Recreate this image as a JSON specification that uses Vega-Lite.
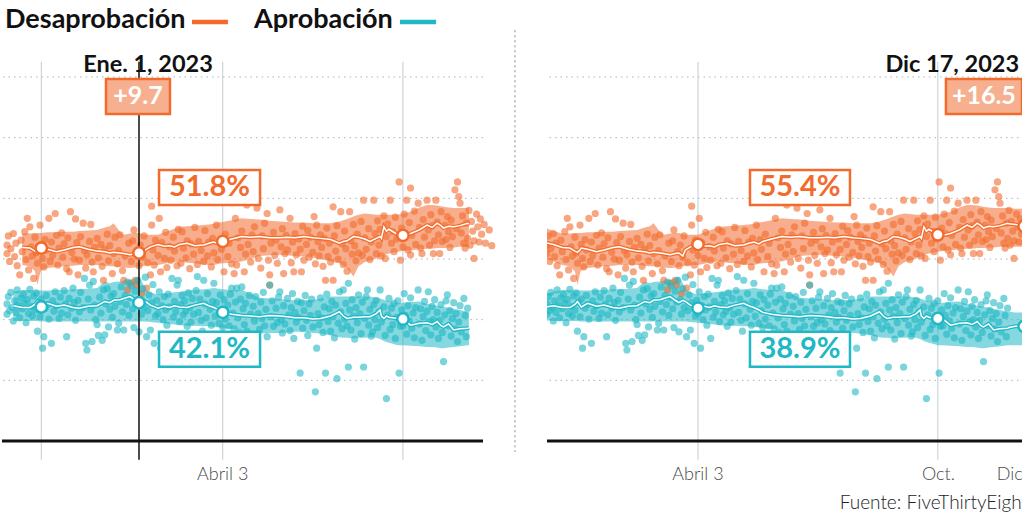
{
"$schema": "https://vega.github.io/schema/vega-lite/v6.json",
"background": "white",
"padding": 0,
"spacing": 64,
"bounds": "flush",
"config": {"view": {"stroke": null, "fill": "white"}, "font": "Lato", "axis": {"disable": true}},
"datasets": {
"tendencia": [
{"t":-28,"d":52.7,"dlo":50.1,"dhi":55.1,"a":42.1,"alo":39.9,"ahi":44.3},
{"t":-22,"d":52.4,"dlo":49.6,"dhi":54.6,"a":42.3,"alo":39.8,"ahi":44.6},
{"t":-15,"d":51.9,"dlo":49.0,"dhi":54.2,"a":42.0,"alo":39.8,"ahi":44.9},
{"t":-9,"d":51.8,"dlo":48.8,"dhi":54.2,"a":42.0,"alo":39.8,"ahi":44.9},
{"t":-5,"d":51.3,"dlo":48.0,"dhi":54.3,"a":42.5,"alo":39.8,"ahi":44.8},
{"t":-3,"d":51.1,"dlo":45.7,"dhi":54.3,"a":43.0,"alo":39.8,"ahi":44.8},
{"t":-1,"d":51.5,"dlo":47.6,"dhi":54.3,"a":42.4,"alo":39.7,"ahi":44.8},
{"t":0,"d":51.8,"dlo":48.2,"dhi":54.3,"a":42.1,"alo":39.7,"ahi":44.8},
{"t":5,"d":51.6,"dlo":48.5,"dhi":54.4,"a":42.7,"alo":39.7,"ahi":44.8},
{"t":12,"d":51.2,"dlo":48.7,"dhi":54.4,"a":42.2,"alo":39.7,"ahi":44.9},
{"t":18,"d":51.5,"dlo":48.8,"dhi":54.5,"a":42.4,"alo":39.7,"ahi":44.9},
{"t":25,"d":51.9,"dlo":48.9,"dhi":54.5,"a":42.0,"alo":39.7,"ahi":45.0},
{"t":30,"d":52.0,"dlo":49.0,"dhi":54.6,"a":41.9,"alo":39.7,"ahi":45.0},
{"t":37,"d":51.6,"dlo":49.0,"dhi":54.7,"a":42.2,"alo":39.7,"ahi":45.1},
{"t":44,"d":51.3,"dlo":49.0,"dhi":54.8,"a":42.3,"alo":39.7,"ahi":45.2},
{"t":50,"d":51.2,"dlo":48.9,"dhi":55.2,"a":43.0,"alo":39.7,"ahi":46.3},
{"t":54,"d":51.0,"dlo":48.8,"dhi":55.4,"a":42.8,"alo":39.7,"ahi":46.0},
{"t":57,"d":51.1,"dlo":48.8,"dhi":55.9,"a":43.2,"alo":39.7,"ahi":46.2},
{"t":62,"d":51.0,"dlo":48.7,"dhi":54.5,"a":43.3,"alo":39.7,"ahi":46.3},
{"t":65,"d":50.9,"dlo":48.6,"dhi":54.0,"a":43.5,"alo":39.7,"ahi":46.4},
{"t":70,"d":50.7,"dlo":48.5,"dhi":54.2,"a":43.8,"alo":39.7,"ahi":46.6},
{"t":74,"d":50.9,"dlo":48.6,"dhi":54.3,"a":43.2,"alo":39.7,"ahi":46.8},
{"t":77,"d":51.0,"dlo":48.7,"dhi":54.3,"a":42.8,"alo":39.7,"ahi":47.1},
{"t":80,"d":50.5,"dlo":48.8,"dhi":54.1,"a":43.2,"alo":39.7,"ahi":46.0},
{"t":82,"d":51.5,"dlo":48.9,"dhi":54.0,"a":43.0,"alo":39.7,"ahi":45.0},
{"t":86,"d":52.0,"dlo":49.0,"dhi":54.0,"a":42.4,"alo":39.6,"ahi":44.5},
{"t":92,"d":52.4,"dlo":49.0,"dhi":54.0,"a":41.9,"alo":39.5,"ahi":44.1},
{"t":97,"d":52.1,"dlo":49.2,"dhi":54.4,"a":42.2,"alo":39.4,"ahi":44.3},
{"t":101,"d":52.2,"dlo":49.4,"dhi":54.7,"a":42.0,"alo":39.3,"ahi":44.4},
{"t":105,"d":52.0,"dlo":49.5,"dhi":55.0,"a":42.3,"alo":39.2,"ahi":44.5},
{"t":109,"d":52.4,"dlo":49.6,"dhi":55.3,"a":42.1,"alo":39.1,"ahi":44.6},
{"t":115,"d":52.6,"dlo":49.4,"dhi":55.4,"a":42.0,"alo":39.0,"ahi":44.8},
{"t":121,"d":52.2,"dlo":49.3,"dhi":55.5,"a":42.4,"alo":39.0,"ahi":44.9},
{"t":128,"d":52.3,"dlo":49.1,"dhi":55.6,"a":42.7,"alo":38.9,"ahi":45.0},
{"t":132,"d":52.6,"dlo":49.0,"dhi":55.7,"a":42.3,"alo":38.9,"ahi":45.1},
{"t":136,"d":52.8,"dlo":49.0,"dhi":55.8,"a":42.0,"alo":38.8,"ahi":45.2},
{"t":140,"d":52.5,"dlo":49.2,"dhi":56.0,"a":41.6,"alo":38.7,"ahi":45.1},
{"t":143,"d":52.9,"dlo":49.3,"dhi":56.1,"a":41.2,"alo":38.6,"ahi":45.0},
{"t":150,"d":53.3,"dlo":49.4,"dhi":56.4,"a":40.9,"alo":38.5,"ahi":44.9},
{"t":158,"d":53.7,"dlo":49.6,"dhi":56.7,"a":40.7,"alo":38.3,"ahi":44.9},
{"t":165,"d":53.6,"dlo":50.0,"dhi":56.6,"a":40.6,"alo":38.0,"ahi":44.3},
{"t":172,"d":53.7,"dlo":50.5,"dhi":56.5,"a":40.5,"alo":37.7,"ahi":43.6},
{"t":180,"d":53.5,"dlo":50.6,"dhi":56.3,"a":40.7,"alo":37.8,"ahi":43.5},
{"t":188,"d":53.5,"dlo":50.7,"dhi":56.2,"a":40.6,"alo":37.8,"ahi":43.4},
{"t":194,"d":53.6,"dlo":50.6,"dhi":56.1,"a":40.5,"alo":37.9,"ahi":43.3},
{"t":200,"d":53.5,"dlo":50.5,"dhi":56.0,"a":40.3,"alo":38.0,"ahi":43.2},
{"t":207,"d":53.7,"dlo":50.4,"dhi":56.0,"a":40.3,"alo":38.0,"ahi":43.2},
{"t":214,"d":53.5,"dlo":50.2,"dhi":55.9,"a":40.1,"alo":37.8,"ahi":43.3},
{"t":220,"d":53.4,"dlo":50.0,"dhi":55.9,"a":40.2,"alo":37.7,"ahi":43.5},
{"t":228,"d":53.2,"dlo":49.6,"dhi":55.9,"a":40.6,"alo":37.4,"ahi":43.8},
{"t":235,"d":52.6,"dlo":49.3,"dhi":56.2,"a":41.3,"alo":37.1,"ahi":43.8},
{"t":238,"d":52.9,"dlo":48.9,"dhi":56.4,"a":40.6,"alo":37.0,"ahi":43.8},
{"t":241,"d":53.0,"dlo":48.5,"dhi":56.6,"a":40.2,"alo":37.0,"ahi":43.8},
{"t":246,"d":53.7,"dlo":47.1,"dhi":57.0,"a":40.4,"alo":36.9,"ahi":43.8},
{"t":250,"d":53.6,"dlo":48.8,"dhi":57.3,"a":40.4,"alo":37.0,"ahi":43.8},
{"t":255,"d":53.3,"dlo":49.5,"dhi":57.5,"a":40.5,"alo":37.0,"ahi":43.8},
{"t":259,"d":52.9,"dlo":49.7,"dhi":57.4,"a":40.5,"alo":37.1,"ahi":43.8},
{"t":264,"d":53.4,"dlo":50.1,"dhi":57.3,"a":41.0,"alo":37.0,"ahi":43.6},
{"t":267,"d":53.7,"dlo":50.3,"dhi":57.3,"a":41.6,"alo":36.8,"ahi":43.5},
{"t":268,"d":53.4,"dlo":50.4,"dhi":57.3,"a":40.6,"alo":36.7,"ahi":43.4},
{"t":270,"d":55.3,"dlo":50.6,"dhi":57.3,"a":40.2,"alo":36.5,"ahi":43.3},
{"t":272,"d":54.6,"dlo":50.8,"dhi":57.3,"a":40.6,"alo":36.3,"ahi":43.1},
{"t":274,"d":54.9,"dlo":50.9,"dhi":57.3,"a":40.4,"alo":36.2,"ahi":43.0},
{"t":281,"d":54.0,"dlo":51.2,"dhi":57.3,"a":40.2,"alo":35.8,"ahi":42.7},
{"t":285,"d":53.9,"dlo":51.3,"dhi":57.5,"a":40.1,"alo":35.8,"ahi":42.8},
{"t":291,"d":54.2,"dlo":51.4,"dhi":57.8,"a":39.1,"alo":35.7,"ahi":42.9},
{"t":298,"d":54.8,"dlo":51.6,"dhi":58.5,"a":39.4,"alo":35.6,"ahi":43.0},
{"t":304,"d":55.6,"dlo":51.7,"dhi":58.9,"a":39.5,"alo":35.5,"ahi":42.6},
{"t":308,"d":55.2,"dlo":51.7,"dhi":58.9,"a":39.2,"alo":35.5,"ahi":42.5},
{"t":312,"d":55.9,"dlo":51.8,"dhi":58.8,"a":39.7,"alo":35.4,"ahi":42.3},
{"t":315,"d":55.5,"dlo":51.8,"dhi":58.7,"a":39.0,"alo":35.3,"ahi":42.2},
{"t":317,"d":55.1,"dlo":51.8,"dhi":58.6,"a":38.8,"alo":35.3,"ahi":42.1},
{"t":321,"d":55.4,"dlo":51.9,"dhi":58.5,"a":39.3,"alo":35.4,"ahi":42.0},
{"t":325,"d":55.3,"dlo":51.9,"dhi":58.4,"a":38.3,"alo":35.5,"ahi":41.8},
{"t":330,"d":55.5,"dlo":52.0,"dhi":58.4,"a":38.5,"alo":35.6,"ahi":41.6},
{"t":336,"d":55.9,"dlo":52.0,"dhi":58.4,"a":38.6,"alo":35.8,"ahi":41.3},
{"t":337,"d":55.8,"dlo":52.0,"dhi":58.4,"a":38.7,"alo":35.8,"ahi":41.3},
{"t":342,"d":55.7,"dlo":52.0,"dhi":58.3,"a":38.9,"alo":35.8,"ahi":41.2},
{"t":349,"d":55.4,"dlo":52.0,"dhi":58.3,"a":38.9,"alo":35.8,"ahi":41.2},
{"t":356,"d":55.5,"dlo":52.0,"dhi":58.3,"a":38.9,"alo":35.8,"ahi":41.2}
],
"desaprobacion": [
{"t":-27,"v":52.3},{"t":-27,"v":50.9},{"t":-26,"v":53.8},{"t":-25,"v":49.6},{"t":-24,"v":51.7},{"t":-22,"v":54.2},{"t":-21,"v":50.4},{"t":-20,"v":52.6},{"t":-19,"v":48.9},{"t":-17,"v":47.4},{"t":-16,"v":53.1},{"t":-15,"v":51.2},{"t":-13,"v":54.5},{"t":-12,"v":49.9},{"t":-11,"v":56.7},{"t":-10,"v":48.2},{"t":-9,"v":55.3},{"t":-8,"v":52.0},{"t":-7,"v":50.5},{"t":-6,"v":46.8},{"t":-5,"v":53.6},{"t":-4,"v":51.0},{"t":-3,"v":49.3},{"t":-1,"v":55.6},{"t":0,"v":52.4},{"t":1,"v":50.1},{"t":2,"v":48.7},{"t":3,"v":53.2},{"t":4,"v":51.5},{"t":6,"v":56.7},{"t":7,"v":49.6},{"t":8,"v":52.8},{"t":9,"v":50.6},{"t":11,"v":57.5},{"t":12,"v":53.9},{"t":13,"v":49.0},{"t":14,"v":51.8},{"t":16,"v":54.3},{"t":17,"v":50.3},{"t":18,"v":52.5},{"t":20,"v":48.4},{"t":21,"v":53.5},{"t":22,"v":47.9},{"t":23,"v":57.8},{"t":24,"v":51.1},{"t":26,"v":50.0},{"t":27,"v":56.6},{"t":28,"v":52.7},{"t":29,"v":47.4},{"t":30,"v":49.8},{"t":31,"v":53.7},{"t":33,"v":55.9},{"t":34,"v":51.4},{"t":35,"v":48.5},{"t":36,"v":50.7},{"t":38,"v":52.9},{"t":39,"v":55.7},{"t":40,"v":49.5},{"t":41,"v":47.9},{"t":42,"v":51.9},{"t":44,"v":53.4},{"t":45,"v":50.2},{"t":47,"v":52.4},{"t":48,"v":48.8},{"t":49,"v":46.5},{"t":50,"v":51.6},{"t":52,"v":54.1},{"t":53,"v":49.7},{"t":54,"v":52.2},{"t":56,"v":47.6},{"t":57,"v":50.9},{"t":58,"v":53.6},{"t":60,"v":49.2},{"t":61,"v":51.4},{"t":62,"v":54.0},{"t":64,"v":48.1},{"t":65,"v":46.5},{"t":66,"v":50.5},{"t":68,"v":44.9},{"t":69,"v":52.6},{"t":70,"v":46.0},{"t":71,"v":49.6},{"t":72,"v":53.0},{"t":73,"v":54.8},{"t":74,"v":46.5},{"t":75,"v":45.7},{"t":76,"v":51.2},{"t":77,"v":48.9},{"t":78,"v":52.3},{"t":79,"v":44.3},{"t":80,"v":50.3},{"t":81,"v":53.8},{"t":83,"v":45.2},{"t":84,"v":49.4},{"t":86,"v":47.4},{"t":87,"v":58.7},{"t":87,"v":55.6},{"t":88,"v":51.5},{"t":89,"v":49.0},{"t":90,"v":53.1},{"t":92,"v":50.6},{"t":93,"v":56.7},{"t":94,"v":47.9},{"t":95,"v":52.7},{"t":97,"v":50.1},{"t":98,"v":54.4},{"t":99,"v":48.6},{"t":101,"v":52.0},{"t":102,"v":49.8},{"t":104,"v":53.6},{"t":105,"v":51.3},{"t":107,"v":48.9},{"t":108,"v":54.9},{"t":110,"v":49.3},{"t":111,"v":54.5},{"t":112,"v":51.8},{"t":114,"v":50.2},{"t":115,"v":53.0},{"t":117,"v":48.4},{"t":118,"v":52.5},{"t":120,"v":50.8},{"t":121,"v":55.2},{"t":123,"v":49.1},{"t":124,"v":52.9},{"t":126,"v":51.4},{"t":128,"v":49.6},{"t":129,"v":54.7},{"t":131,"v":50.5},{"t":132,"v":52.8},{"t":134,"v":48.7},{"t":135,"v":53.4},{"t":136,"v":51.0},{"t":138,"v":55.6},{"t":139,"v":49.9},{"t":141,"v":53.2},{"t":142,"v":51.6},{"t":144,"v":47.9},{"t":145,"v":54.1},{"t":147,"v":50.4},{"t":148,"v":52.6},{"t":150,"v":49.2},{"t":152,"v":47.6},{"t":153,"v":56.7},{"t":154,"v":49.0},{"t":155,"v":53.5},{"t":157,"v":51.9},{"t":158,"v":54.6},{"t":160,"v":47.9},{"t":161,"v":50.8},{"t":162,"v":58.9},{"t":163,"v":52.4},{"t":165,"v":49.5},{"t":166,"v":54.0},{"t":167,"v":51.2},{"t":168,"v":55.3},{"t":170,"v":58.4},{"t":171,"v":50.1},{"t":173,"v":48.5},{"t":174,"v":53.8},{"t":175,"v":51.7},{"t":176,"v":55.9},{"t":178,"v":57.5},{"t":179,"v":49.8},{"t":180,"v":47.4},{"t":180,"v":45.7},{"t":181,"v":52.6},{"t":183,"v":54.4},{"t":184,"v":50.6},{"t":185,"v":53.1},{"t":186,"v":49.3},{"t":188,"v":58.1},{"t":189,"v":52.0},{"t":190,"v":55.0},{"t":191,"v":47.6},{"t":192,"v":50.9},{"t":193,"v":53.9},{"t":194,"v":51.5},{"t":196,"v":56.7},{"t":197,"v":49.4},{"t":198,"v":52.8},{"t":199,"v":47.9},{"t":200,"v":54.2},{"t":201,"v":50.7},{"t":203,"v":53.3},{"t":204,"v":51.6},{"t":205,"v":47.9},{"t":206,"v":55.4},{"t":207,"v":49.8},{"t":209,"v":52.4},{"t":210,"v":54.7},{"t":211,"v":50.3},{"t":212,"v":53.6},{"t":214,"v":51.1},{"t":215,"v":57.0},{"t":216,"v":49.2},{"t":217,"v":55.6},{"t":218,"v":52.9},{"t":219,"v":50.5},{"t":220,"v":54.0},{"t":221,"v":51.9},{"t":222,"v":48.8},{"t":223,"v":53.4},{"t":224,"v":46.5},{"t":225,"v":55.1},{"t":226,"v":50.4},{"t":227,"v":52.6},{"t":228,"v":49.5},{"t":230,"v":58.6},{"t":230,"v":46.5},{"t":231,"v":53.8},{"t":232,"v":51.3},{"t":233,"v":55.5},{"t":234,"v":50.0},{"t":236,"v":57.8},{"t":237,"v":52.5},{"t":238,"v":49.1},{"t":239,"v":54.6},{"t":240,"v":51.7},{"t":241,"v":48.0},{"t":243,"v":57.8},{"t":244,"v":53.0},{"t":245,"v":50.8},{"t":246,"v":55.7},{"t":247,"v":52.2},{"t":248,"v":49.7},{"t":249,"v":54.1},{"t":250,"v":51.0},{"t":252,"v":56.2},{"t":253,"v":50.6},{"t":254,"v":59.7},{"t":255,"v":53.5},{"t":256,"v":51.6},{"t":258,"v":55.0},{"t":259,"v":49.9},{"t":260,"v":52.8},{"t":262,"v":59.7},{"t":263,"v":54.2},{"t":264,"v":50.9},{"t":265,"v":56.3},{"t":266,"v":52.3},{"t":267,"v":54.9},{"t":268,"v":50.5},{"t":270,"v":57.1},{"t":271,"v":50.1},{"t":272,"v":53.7},{"t":273,"v":55.8},{"t":275,"v":59.7},{"t":276,"v":52.6},{"t":277,"v":54.5},{"t":278,"v":51.2},{"t":279,"v":56.9},{"t":280,"v":53.3},{"t":282,"v":62.7},{"t":283,"v":49.8},{"t":284,"v":55.1},{"t":285,"v":52.0},{"t":286,"v":57.4},{"t":287,"v":54.2},{"t":288,"v":59.7},{"t":289,"v":51.5},{"t":290,"v":56.0},{"t":291,"v":61.7},{"t":291,"v":50.7},{"t":292,"v":53.9},{"t":294,"v":57.9},{"t":295,"v":52.4},{"t":297,"v":59.2},{"t":298,"v":55.2},{"t":299,"v":51.8},{"t":300,"v":50.9},{"t":301,"v":56.5},{"t":302,"v":53.6},{"t":304,"v":59.7},{"t":305,"v":54.8},{"t":306,"v":52.3},{"t":307,"v":57.3},{"t":308,"v":55.5},{"t":309,"v":50.9},{"t":310,"v":53.0},{"t":311,"v":59.7},{"t":312,"v":56.1},{"t":313,"v":54.0},{"t":314,"v":50.9},{"t":315,"v":57.8},{"t":316,"v":52.9},{"t":318,"v":55.6},{"t":319,"v":53.2},{"t":320,"v":57.0},{"t":321,"v":54.5},{"t":322,"v":51.9},{"t":323,"v":56.4},{"t":324,"v":53.7},{"t":326,"v":61.4},{"t":327,"v":55.0},{"t":328,"v":62.7},{"t":329,"v":60.3},{"t":330,"v":59.2},{"t":331,"v":54.3},{"t":332,"v":57.1},{"t":333,"v":52.6},{"t":334,"v":51.8},{"t":335,"v":55.9},{"t":336,"v":53.4},{"t":337,"v":58.0},{"t":338,"v":52.3},{"t":339,"v":56.2},{"t":340,"v":54.6},{"t":341,"v":53.0},{"t":341,"v":50.1},{"t":343,"v":57.4},{"t":344,"v":55.3},{"t":345,"v":52.8},{"t":346,"v":56.6},{"t":347,"v":54.1},{"t":349,"v":55.7},{"t":350,"v":52.6},{"t":353,"v":54.8},{"t":355,"v":52.2}
],
"aprobacion": [
{"t":-27,"v":42.6},{"t":-27,"v":40.9},{"t":-26,"v":43.8},{"t":-25,"v":41.5},{"t":-24,"v":44.5},{"t":-23,"v":42.0},{"t":-22,"v":39.8},{"t":-21,"v":43.1},{"t":-20,"v":41.2},{"t":-19,"v":44.9},{"t":-18,"v":42.4},{"t":-17,"v":40.3},{"t":-16,"v":43.6},{"t":-15,"v":41.8},{"t":-14,"v":44.2},{"t":-13,"v":42.7},{"t":-12,"v":39.5},{"t":-11,"v":43.3},{"t":-10,"v":41.0},{"t":-9,"v":45.0},{"t":-8,"v":42.2},{"t":-7,"v":40.6},{"t":-6,"v":43.9},{"t":-5,"v":41.6},{"t":-4,"v":44.4},{"t":-3,"v":38.1},{"t":-2,"v":42.9},{"t":-1,"v":40.5},{"t":0,"v":43.4},{"t":1,"v":35.3},{"t":2,"v":37.2},{"t":3,"v":41.9},{"t":4,"v":44.0},{"t":5,"v":42.5},{"t":6,"v":40.1},{"t":8,"v":36.1},{"t":9,"v":43.1},{"t":10,"v":41.4},{"t":11,"v":44.6},{"t":12,"v":42.3},{"t":14,"v":40.2},{"t":15,"v":43.7},{"t":16,"v":41.1},{"t":18,"v":44.8},{"t":19,"v":42.6},{"t":20,"v":37.2},{"t":21,"v":40.8},{"t":22,"v":43.5},{"t":24,"v":41.9},{"t":25,"v":45.2},{"t":26,"v":42.8},{"t":27,"v":39.9},{"t":29,"v":43.2},{"t":30,"v":41.3},{"t":31,"v":44.5},{"t":33,"v":42.0},{"t":34,"v":46.8},{"t":35,"v":36.1},{"t":36,"v":35.0},{"t":37,"v":43.4},{"t":38,"v":45.7},{"t":39,"v":41.6},{"t":40,"v":36.4},{"t":41,"v":46.3},{"t":42,"v":42.4},{"t":43,"v":40.0},{"t":44,"v":39.2},{"t":45,"v":37.4},{"t":46,"v":43.7},{"t":47,"v":41.1},{"t":48,"v":36.6},{"t":49,"v":44.9},{"t":50,"v":37.5},{"t":51,"v":42.6},{"t":52,"v":45.1},{"t":53,"v":38.8},{"t":54,"v":41.7},{"t":55,"v":43.9},{"t":56,"v":40.4},{"t":57,"v":44.3},{"t":58,"v":42.2},{"t":60,"v":38.3},{"t":61,"v":39.4},{"t":62,"v":43.0},{"t":63,"v":45.4},{"t":64,"v":41.3},{"t":65,"v":38.3},{"t":66,"v":44.0},{"t":67,"v":42.5},{"t":68,"v":46.2},{"t":69,"v":40.7},{"t":70,"v":43.6},{"t":71,"v":45.6},{"t":72,"v":41.8},{"t":73,"v":38.7},{"t":74,"v":44.7},{"t":75,"v":42.9},{"t":76,"v":46.5},{"t":77,"v":38.0},{"t":78,"v":43.3},{"t":79,"v":40.9},{"t":80,"v":45.1},{"t":81,"v":42.0},{"t":82,"v":47.0},{"t":83,"v":37.2},{"t":84,"v":41.5},{"t":85,"v":44.1},{"t":86,"v":38.3},{"t":87,"v":42.8},{"t":88,"v":45.8},{"t":89,"v":36.1},{"t":90,"v":40.6},{"t":91,"v":43.2},{"t":92,"v":41.0},{"t":93,"v":44.6},{"t":94,"v":35.3},{"t":95,"v":42.3},{"t":96,"v":40.0},{"t":97,"v":43.8},{"t":98,"v":41.6},{"t":99,"v":39.1},{"t":100,"v":44.2},{"t":101,"v":42.1},{"t":102,"v":36.9},{"t":103,"v":46.8},{"t":104,"v":40.4},{"t":105,"v":43.0},{"t":106,"v":41.3},{"t":107,"v":45.7},{"t":108,"v":46.5},{"t":109,"v":39.7},{"t":110,"v":42.5},{"t":111,"v":44.0},{"t":112,"v":40.8},{"t":113,"v":43.1},{"t":114,"v":41.4},{"t":115,"v":38.9},{"t":116,"v":44.4},{"t":117,"v":42.0},{"t":118,"v":39.6},{"t":119,"v":43.5},{"t":120,"v":40.9},{"t":122,"v":44.8},{"t":123,"v":47.1},{"t":124,"v":41.2},{"t":125,"v":43.4},{"t":126,"v":39.9},{"t":127,"v":38.1},{"t":128,"v":46.5},{"t":129,"v":42.6},{"t":130,"v":40.3},{"t":131,"v":44.3},{"t":133,"v":41.7},{"t":134,"v":39.1},{"t":135,"v":43.0},{"t":136,"v":46.0},{"t":137,"v":40.6},{"t":138,"v":42.8},{"t":140,"v":39.4},{"t":141,"v":44.1},{"t":142,"v":41.5},{"t":143,"v":38.7},{"t":144,"v":43.3},{"t":145,"v":40.1},{"t":147,"v":42.4},{"t":148,"v":39.0},{"t":149,"v":44.2},{"t":150,"v":45.2},{"t":151,"v":41.1},{"t":152,"v":38.5},{"t":153,"v":42.9},{"t":154,"v":45.2},{"t":155,"v":40.3},{"t":156,"v":37.9},{"t":157,"v":43.4},{"t":158,"v":45.4},{"t":159,"v":41.8},{"t":160,"v":39.2},{"t":161,"v":42.7},{"t":162,"v":38.1},{"t":164,"v":44.0},{"t":165,"v":40.9},{"t":166,"v":37.6},{"t":167,"v":42.2},{"t":168,"v":39.8},{"t":169,"v":43.8},{"t":171,"v":41.0},{"t":172,"v":38.4},{"t":173,"v":42.9},{"t":174,"v":40.2},{"t":175,"v":44.5},{"t":176,"v":39.0},{"t":177,"v":41.7},{"t":178,"v":37.2},{"t":180,"v":45.7},{"t":181,"v":40.5},{"t":182,"v":43.1},{"t":183,"v":38.9},{"t":185,"v":41.9},{"t":186,"v":39.5},{"t":187,"v":43.7},{"t":188,"v":44.6},{"t":189,"v":40.0},{"t":190,"v":37.8},{"t":191,"v":42.3},{"t":192,"v":39.3},{"t":194,"v":43.5},{"t":195,"v":40.8},{"t":196,"v":38.2},{"t":197,"v":42.0},{"t":198,"v":44.3},{"t":199,"v":36.9},{"t":200,"v":41.2},{"t":201,"v":39.6},{"t":202,"v":43.0},{"t":203,"v":40.4},{"t":204,"v":31.2},{"t":205,"v":42.8},{"t":206,"v":38.6},{"t":207,"v":41.5},{"t":208,"v":44.0},{"t":209,"v":39.9},{"t":210,"v":37.4},{"t":211,"v":42.6},{"t":212,"v":40.7},{"t":213,"v":43.4},{"t":214,"v":38.8},{"t":216,"v":28.1},{"t":217,"v":35.3},{"t":218,"v":41.0},{"t":219,"v":39.2},{"t":220,"v":43.6},{"t":221,"v":40.3},{"t":222,"v":37.9},{"t":223,"v":42.1},{"t":224,"v":31.2},{"t":225,"v":44.2},{"t":226,"v":39.7},{"t":227,"v":41.8},{"t":228,"v":38.1},{"t":229,"v":43.0},{"t":230,"v":40.5},{"t":231,"v":37.0},{"t":232,"v":42.4},{"t":233,"v":30.3},{"t":234,"v":39.4},{"t":235,"v":44.6},{"t":236,"v":41.3},{"t":237,"v":38.5},{"t":238,"v":44.9},{"t":239,"v":40.1},{"t":240,"v":42.7},{"t":241,"v":39.0},{"t":242,"v":46.0},{"t":242,"v":32.2},{"t":243,"v":41.6},{"t":244,"v":38.3},{"t":245,"v":43.3},{"t":246,"v":40.6},{"t":247,"v":36.8},{"t":248,"v":42.0},{"t":249,"v":39.5},{"t":250,"v":44.1},{"t":251,"v":41.0},{"t":252,"v":37.7},{"t":253,"v":42.9},{"t":254,"v":32.2},{"t":255,"v":40.2},{"t":256,"v":43.8},{"t":257,"v":44.9},{"t":258,"v":39.1},{"t":259,"v":41.7},{"t":260,"v":37.3},{"t":261,"v":38.0},{"t":262,"v":42.5},{"t":263,"v":40.0},{"t":264,"v":43.2},{"t":265,"v":38.7},{"t":266,"v":41.3},{"t":267,"v":44.9},{"t":268,"v":39.6},{"t":270,"v":42.1},{"t":271,"v":37.4},{"t":272,"v":27.0},{"t":273,"v":40.8},{"t":274,"v":43.5},{"t":275,"v":38.4},{"t":276,"v":41.9},{"t":277,"v":39.2},{"t":278,"v":42.7},{"t":279,"v":36.9},{"t":280,"v":40.4},{"t":281,"v":43.1},{"t":282,"v":31.2},{"t":283,"v":38.9},{"t":284,"v":41.6},{"t":285,"v":39.0},{"t":286,"v":44.3},{"t":287,"v":40.7},{"t":288,"v":37.6},{"t":289,"v":42.3},{"t":290,"v":39.8},{"t":291,"v":43.6},{"t":292,"v":38.6},{"t":293,"v":41.1},{"t":294,"v":37.0},{"t":295,"v":42.0},{"t":297,"v":44.9},{"t":298,"v":39.3},{"t":299,"v":41.8},{"t":300,"v":36.6},{"t":301,"v":40.5},{"t":302,"v":43.0},{"t":303,"v":38.2},{"t":304,"v":41.4},{"t":305,"v":44.6},{"t":306,"v":39.7},{"t":307,"v":37.5},{"t":308,"v":42.2},{"t":309,"v":40.0},{"t":310,"v":43.3},{"t":311,"v":38.8},{"t":312,"v":41.2},{"t":313,"v":36.9},{"t":314,"v":39.9},{"t":315,"v":42.5},{"t":316,"v":37.9},{"t":317,"v":33.1},{"t":318,"v":40.8},{"t":319,"v":43.1},{"t":320,"v":44.1},{"t":321,"v":39.0},{"t":322,"v":41.5},{"t":323,"v":37.3},{"t":324,"v":40.2},{"t":325,"v":42.8},{"t":326,"v":38.5},{"t":327,"v":41.0},{"t":328,"v":36.4},{"t":329,"v":39.6},{"t":330,"v":42.3},{"t":331,"v":38.0},{"t":333,"v":43.5},{"t":334,"v":40.7},{"t":335,"v":37.2},{"t":336,"v":41.9}
]
},
"hconcat": [
{
"width": 481,
"height": 518,
"data": {"values": [{}]},
"layer": [
{"mark": {"type": "rule", "color": "#aab5bc", "strokeWidth": 1, "strokeDash": [1.5, 4]}, "encoding": {"y": {"datum": 30}}},
{"mark": {"type": "rule", "color": "#aab5bc", "strokeWidth": 1, "strokeDash": [1.5, 4]}, "encoding": {"y": {"datum": 40}}},
{"mark": {"type": "rule", "color": "#aab5bc", "strokeWidth": 1, "strokeDash": [1.5, 4]}, "encoding": {"y": {"datum": 50}}},
{"mark": {"type": "rule", "color": "#aab5bc", "strokeWidth": 1, "strokeDash": [1.5, 4]}, "encoding": {"y": {"datum": 60}}},
{"mark": {"type": "rule", "color": "#aab5bc", "strokeWidth": 1, "strokeDash": [1.5, 4]}, "encoding": {"y": {"datum": 70}}},
{"mark": {"type": "rule", "color": "#aab5bc", "strokeWidth": 1, "strokeDash": [1.5, 4]}, "encoding": {"y": {"datum": 80}}},
{"mark": {"type": "rule", "color": "#c3ccd2", "strokeWidth": 1}, "encoding": {"x": {"datum": 0}, "y": {"datum": 82.5}, "y2": {"datum": 16.9}}},
{"mark": {"type": "rule", "color": "#c3ccd2", "strokeWidth": 1}, "encoding": {"x": {"datum": 143}, "y": {"datum": 82.5}, "y2": {"datum": 16.9}}},
{"mark": {"type": "rule", "color": "#c3ccd2", "strokeWidth": 1}, "encoding": {"x": {"datum": 285}, "y": {"datum": 82.5}, "y2": {"datum": 16.9}}},
{"data": {"name": "tendencia"}, "transform": [{"filter": "datum.t >= -15 && datum.t <= 337"}],
 "mark": {"type": "area", "color": "#F26B2D", "opacity": 0.55},
 "encoding": {
  "x": {"field": "t", "type": "quantitative", "scale": {"domain": [-30.96, 348.1], "nice": false, "zero": false}},
  "y": {"field": "dlo", "type": "quantitative", "scale": {"domain": [7.31, 92.69], "nice": false, "zero": false}},
  "y2": {"field": "dhi"}}},
{"data": {"name": "tendencia"}, "transform": [{"filter": "datum.t >= -22 && datum.t <= 337"}],
 "mark": {"type": "area", "color": "#20B8C4", "opacity": 0.55},
 "encoding": {"x": {"field": "t", "type": "quantitative"}, "y": {"field": "alo", "type": "quantitative"}, "y2": {"field": "ahi"}}},
{"data": {"name": "desaprobacion"}, "mark": {"type": "circle", "size": 52, "color": "#F26B2D", "opacity": 0.6},
 "encoding": {"x": {"field": "t", "type": "quantitative"}, "y": {"field": "v", "type": "quantitative"}}},
{"data": {"name": "aprobacion"}, "mark": {"type": "circle", "size": 52, "color": "#20B8C4", "opacity": 0.6},
 "encoding": {"x": {"field": "t", "type": "quantitative"}, "y": {"field": "v", "type": "quantitative"}}},
{"mark": {"type": "rule", "color": "#111111", "strokeWidth": 1.5}, "encoding": {"x": {"datum": 77}, "y": {"datum": 82.5}, "y2": {"datum": 16.9}}},
{"data": {"name": "tendencia"}, "transform": [{"filter": "datum.t >= -15 && datum.t <= 337"}],
 "mark": {"type": "line", "color": "#F26B2D", "strokeWidth": 4}, "encoding": {"x": {"field": "t", "type": "quantitative"}, "y": {"field": "d", "type": "quantitative"}}},
{"data": {"name": "tendencia"}, "transform": [{"filter": "datum.t >= -15 && datum.t <= 337"}],
 "mark": {"type": "line", "color": "white", "strokeWidth": 1.5}, "encoding": {"x": {"field": "t", "type": "quantitative"}, "y": {"field": "d", "type": "quantitative"}}},
{"data": {"name": "tendencia"}, "transform": [{"filter": "datum.t >= -22 && datum.t <= 337"}],
 "mark": {"type": "line", "color": "#20B8C4", "strokeWidth": 4}, "encoding": {"x": {"field": "t", "type": "quantitative"}, "y": {"field": "a", "type": "quantitative"}}},
{"data": {"name": "tendencia"}, "transform": [{"filter": "datum.t >= -22 && datum.t <= 337"}],
 "mark": {"type": "line", "color": "white", "strokeWidth": 1.5}, "encoding": {"x": {"field": "t", "type": "quantitative"}, "y": {"field": "a", "type": "quantitative"}}},
{"data": {"name": "tendencia"}, "transform": [{"filter": "indexof([0,77,143,285], datum.t) >= 0"}],
 "mark": {"type": "point", "shape": "circle", "filled": true, "fill": "white", "stroke": "#F26B2D", "strokeWidth": 2.5, "size": 130, "opacity": 1},
 "encoding": {"x": {"field": "t", "type": "quantitative"}, "y": {"field": "d", "type": "quantitative"}}},
{"data": {"name": "tendencia"}, "transform": [{"filter": "indexof([0,77,143,285], datum.t) >= 0"}],
 "mark": {"type": "point", "shape": "circle", "filled": true, "fill": "white", "stroke": "#20B8C4", "strokeWidth": 2.5, "size": 130, "opacity": 1},
 "encoding": {"x": {"field": "t", "type": "quantitative"}, "y": {"field": "a", "type": "quantitative"}}},
{"mark": {"type": "rule", "color": "#111111", "strokeWidth": 3}, "encoding": {"y": {"datum": 20}}},
{"mark": {"type": "text", "text": "Desaprobación", "align": "left", "baseline": "middle", "fontSize": 27, "fontWeight": "bold", "color": "#111111"}, "encoding": {"x": {"datum": -28.6}, "y": {"datum": 89.39}}},
{"mark": {"type": "rule", "color": "#F26B2D", "strokeWidth": 4.5}, "encoding": {"x": {"datum": 118.8}, "x2": {"datum": 147.1}, "y": {"datum": 89.06}}},
{"mark": {"type": "text", "text": "Aprobación", "align": "left", "baseline": "middle", "fontSize": 27, "fontWeight": "bold", "color": "#111111"}, "encoding": {"x": {"datum": 167.6}, "y": {"datum": 89.39}}},
{"mark": {"type": "rule", "color": "#20B8C4", "strokeWidth": 4.5}, "encoding": {"x": {"datum": 282.7}, "x2": {"datum": 311.1}, "y": {"datum": 89.06}}},
{"mark": {"type": "text", "text": "Ene. 1, 2023", "align": "center", "baseline": "middle", "fontSize": 23.5, "fontWeight": "bold", "color": "#111111"}, "encoding": {"x": {"datum": 84.1}, "y": {"datum": 82.0}}},
{"mark": {"type": "rect", "fill": "#F6B08F", "stroke": "#F26B2D", "strokeWidth": 2.5}, "encoding": {"x": {"datum": 51.0}, "x2": {"datum": 101.4}, "y": {"datum": 79.67}, "y2": {"datum": 73.9}}},
{"mark": {"type": "text", "text": "+9.7", "align": "center", "baseline": "middle", "fontSize": 25, "fontWeight": "bold", "color": "white"}, "encoding": {"x": {"datum": 76.2}, "y": {"datum": 76.8}}},
{"mark": {"type": "rect", "fill": "white", "stroke": "#F26B2D", "strokeWidth": 2.5}, "encoding": {"x": {"datum": 92.8}, "x2": {"datum": 172.4}, "y": {"datum": 64.67}, "y2": {"datum": 58.9}}},
{"mark": {"type": "text", "text": "51.8%", "align": "center", "baseline": "middle", "fontSize": 29, "fontWeight": "bold", "color": "#F26B2D"}, "encoding": {"x": {"datum": 132.6}, "y": {"datum": 61.8}}},
{"mark": {"type": "rect", "fill": "white", "stroke": "#20B8C4", "strokeWidth": 2.5}, "encoding": {"x": {"datum": 92.8}, "x2": {"datum": 172.4}, "y": {"datum": 38.02}, "y2": {"datum": 32.25}}},
{"mark": {"type": "text", "text": "42.1%", "align": "center", "baseline": "middle", "fontSize": 29, "fontWeight": "bold", "color": "#20B8C4"}, "encoding": {"x": {"datum": 132.6}, "y": {"datum": 35.1}}},
{"mark": {"type": "text", "text": "Abril 3", "align": "center", "baseline": "middle", "fontSize": 18, "fontWeight": 300, "color": "#4a4a4a"}, "encoding": {"x": {"datum": 143}, "y": {"datum": 14.4}}}
]
},
{
"width": 477,
"height": 518,
"data": {"values": [{}]},
"layer": [
{"mark": {"type": "rule", "color": "#aab5bc", "strokeWidth": 1, "strokeDash": [1.5, 4]}, "encoding": {"y": {"datum": 30}}},
{"mark": {"type": "rule", "color": "#aab5bc", "strokeWidth": 1, "strokeDash": [1.5, 4]}, "encoding": {"y": {"datum": 40}}},
{"mark": {"type": "rule", "color": "#aab5bc", "strokeWidth": 1, "strokeDash": [1.5, 4]}, "encoding": {"y": {"datum": 50}}},
{"mark": {"type": "rule", "color": "#aab5bc", "strokeWidth": 1, "strokeDash": [1.5, 4]}, "encoding": {"y": {"datum": 60}}},
{"mark": {"type": "rule", "color": "#aab5bc", "strokeWidth": 1, "strokeDash": [1.5, 4]}, "encoding": {"y": {"datum": 70}}},
{"mark": {"type": "rule", "color": "#aab5bc", "strokeWidth": 1, "strokeDash": [1.5, 4]}, "encoding": {"y": {"datum": 80}}},
{"mark": {"type": "rule", "color": "#c3ccd2", "strokeWidth": 1}, "encoding": {"x": {"datum": 92}, "y": {"datum": 82.5}, "y2": {"datum": 16.9}}},
{"mark": {"type": "rule", "color": "#c3ccd2", "strokeWidth": 1}, "encoding": {"x": {"datum": 281}, "y": {"datum": 82.5}, "y2": {"datum": 16.9}}},
{"mark": {"type": "rule", "color": "#888888", "strokeWidth": 1, "strokeDash": [2, 3]}, "encoding": {"x": {"datum": -52.25}, "y": {"datum": 87.7}, "y2": {"datum": 18.2}}},
{"data": {"name": "tendencia"},
 "mark": {"type": "area", "color": "#F26B2D", "opacity": 0.55, "clip": true},
 "encoding": {
  "x": {"field": "t", "type": "quantitative", "scale": {"domain": [-27.0, 348.9], "nice": false, "zero": false}},
  "y": {"field": "dlo", "type": "quantitative", "scale": {"domain": [7.31, 92.69], "nice": false, "zero": false}},
  "y2": {"field": "dhi"}}},
{"data": {"name": "tendencia"},
 "mark": {"type": "area", "color": "#20B8C4", "opacity": 0.55, "clip": true},
 "encoding": {"x": {"field": "t", "type": "quantitative"}, "y": {"field": "alo", "type": "quantitative"}, "y2": {"field": "ahi"}}},
{"data": {"name": "desaprobacion"}, "mark": {"type": "circle", "size": 52, "color": "#F26B2D", "opacity": 0.6, "clip": true},
 "encoding": {"x": {"field": "t", "type": "quantitative"}, "y": {"field": "v", "type": "quantitative"}}},
{"data": {"name": "aprobacion"}, "mark": {"type": "circle", "size": 52, "color": "#20B8C4", "opacity": 0.6, "clip": true},
 "encoding": {"x": {"field": "t", "type": "quantitative"}, "y": {"field": "v", "type": "quantitative"}}},
{"data": {"name": "tendencia"},
 "mark": {"type": "line", "color": "#F26B2D", "strokeWidth": 4, "clip": true}, "encoding": {"x": {"field": "t", "type": "quantitative"}, "y": {"field": "d", "type": "quantitative"}}},
{"data": {"name": "tendencia"},
 "mark": {"type": "line", "color": "white", "strokeWidth": 1.5, "clip": true}, "encoding": {"x": {"field": "t", "type": "quantitative"}, "y": {"field": "d", "type": "quantitative"}}},
{"data": {"name": "tendencia"},
 "mark": {"type": "line", "color": "#20B8C4", "strokeWidth": 4, "clip": true}, "encoding": {"x": {"field": "t", "type": "quantitative"}, "y": {"field": "a", "type": "quantitative"}}},
{"data": {"name": "tendencia"},
 "mark": {"type": "line", "color": "white", "strokeWidth": 1.5, "clip": true}, "encoding": {"x": {"field": "t", "type": "quantitative"}, "y": {"field": "a", "type": "quantitative"}}},
{"data": {"name": "tendencia"}, "transform": [{"filter": "indexof([92,281,349], datum.t) >= 0"}],
 "mark": {"type": "point", "shape": "circle", "filled": true, "fill": "white", "stroke": "#F26B2D", "strokeWidth": 2.5, "size": 130, "opacity": 1, "clip": true},
 "encoding": {"x": {"field": "t", "type": "quantitative"}, "y": {"field": "d", "type": "quantitative"}}},
{"data": {"name": "tendencia"}, "transform": [{"filter": "indexof([92,281,349], datum.t) >= 0"}],
 "mark": {"type": "point", "shape": "circle", "filled": true, "fill": "white", "stroke": "#20B8C4", "strokeWidth": 2.5, "size": 130, "opacity": 1, "clip": true},
 "encoding": {"x": {"field": "t", "type": "quantitative"}, "y": {"field": "a", "type": "quantitative"}}},
{"mark": {"type": "rule", "color": "#111111", "strokeWidth": 3}, "encoding": {"y": {"datum": 20}}},
{"mark": {"type": "text", "text": "Dic 17, 2023", "align": "right", "baseline": "middle", "fontSize": 23.5, "fontWeight": "bold", "color": "#111111"}, "encoding": {"x": {"datum": 345.0}, "y": {"datum": 82.0}}},
{"mark": {"type": "rect", "fill": "#F6B08F", "stroke": "#F26B2D", "strokeWidth": 2.5}, "encoding": {"x": {"datum": 287.4}, "x2": {"datum": 347.3}, "y": {"datum": 79.67}, "y2": {"datum": 73.9}}},
{"mark": {"type": "text", "text": "+16.5", "align": "center", "baseline": "middle", "fontSize": 25, "fontWeight": "bold", "color": "white"}, "encoding": {"x": {"datum": 317.3}, "y": {"datum": 76.8}}},
{"mark": {"type": "rect", "fill": "white", "stroke": "#F26B2D", "strokeWidth": 2.5}, "encoding": {"x": {"datum": 132.95}, "x2": {"datum": 211.76}, "y": {"datum": 64.67}, "y2": {"datum": 58.9}}},
{"mark": {"type": "text", "text": "55.4%", "align": "center", "baseline": "middle", "fontSize": 29, "fontWeight": "bold", "color": "#F26B2D"}, "encoding": {"x": {"datum": 172.4}, "y": {"datum": 61.8}}},
{"mark": {"type": "rect", "fill": "white", "stroke": "#20B8C4", "strokeWidth": 2.5}, "encoding": {"x": {"datum": 132.95}, "x2": {"datum": 211.76}, "y": {"datum": 38.02}, "y2": {"datum": 32.25}}},
{"mark": {"type": "text", "text": "38.9%", "align": "center", "baseline": "middle", "fontSize": 29, "fontWeight": "bold", "color": "#20B8C4"}, "encoding": {"x": {"datum": 172.4}, "y": {"datum": 35.1}}},
{"mark": {"type": "text", "text": "Abril 3", "align": "center", "baseline": "middle", "fontSize": 18, "fontWeight": 300, "color": "#4a4a4a"}, "encoding": {"x": {"datum": 92}, "y": {"datum": 14.4}}},
{"mark": {"type": "text", "text": "Oct.", "align": "center", "baseline": "middle", "fontSize": 18, "fontWeight": 300, "color": "#4a4a4a"}, "encoding": {"x": {"datum": 281.5}, "y": {"datum": 14.4}}},
{"mark": {"type": "text", "text": "Dic", "align": "center", "baseline": "middle", "fontSize": 18, "fontWeight": 300, "color": "#4a4a4a"}, "encoding": {"x": {"datum": 337.6}, "y": {"datum": 14.4}}},
{"mark": {"type": "text", "text": "Fuente: FiveThirtyEight", "align": "left", "baseline": "middle", "fontSize": 19, "fontWeight": 300, "color": "#222222", "clip": true}, "encoding": {"x": {"datum": 203.7}, "y": {"datum": 9.8}}}
]
}
]
}
